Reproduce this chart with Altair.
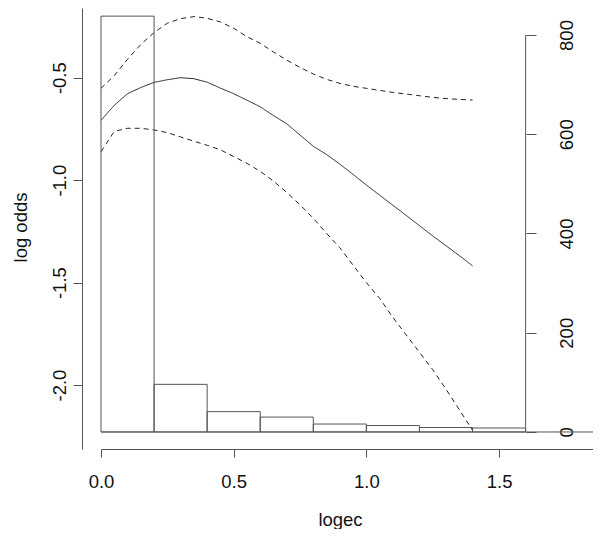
import altair as alt
import pandas as pd

# ---- data ----
x_grid = [0.00, 0.05, 0.10, 0.15, 0.20, 0.25, 0.30, 0.35, 0.40, 0.45,
          0.50, 0.55, 0.60, 0.65, 0.70, 0.75, 0.80, 0.85, 0.90, 0.95,
          1.00, 1.05, 1.10, 1.15, 1.20, 1.25, 1.30, 1.35, 1.40]
fit = [-0.708, -0.635, -0.578, -0.548, -0.523, -0.510, -0.500, -0.505, -0.522, -0.551,
       -0.578, -0.610, -0.642, -0.685, -0.725, -0.780, -0.835, -0.875, -0.922, -0.972,
       -1.024, -1.073, -1.123, -1.172, -1.222, -1.272, -1.320, -1.368, -1.418]
upper = [-0.552, -0.490, -0.410, -0.338, -0.280, -0.234, -0.212, -0.202, -0.210, -0.228,
         -0.259, -0.300, -0.332, -0.375, -0.414, -0.450, -0.482, -0.508, -0.528, -0.542,
         -0.552, -0.562, -0.572, -0.580, -0.588, -0.596, -0.602, -0.606, -0.609]
lower = [-0.861, -0.762, -0.747, -0.747, -0.755, -0.768, -0.789, -0.810, -0.830, -0.852,
         -0.885, -0.918, -0.957, -1.005, -1.060, -1.120, -1.186, -1.260, -1.330, -1.415,
         -1.500, -1.577, -1.670, -1.755, -1.840, -1.925, -2.020, -2.120, -2.220]

bin_start = [0.0, 0.2, 0.4, 0.6, 0.8, 1.0, 1.2, 1.4]
bin_end = [0.2, 0.4, 0.6, 0.8, 1.0, 1.2, 1.4, 1.6]
counts = [838, 96, 41, 30, 16, 13, 9, 8]

x_ticks = [0.0, 0.5, 1.0, 1.5]
y_ticks = [-2.0, -1.5, -1.0, -0.5]
count_ticks = [0, 200, 400, 600, 800]

# ---- tables ----
rows = []
for name, style, vals in [("fit", "solid", fit), ("upper", "dashed", upper), ("lower", "dashed", lower)]:
    for xv, yv in zip(x_grid, vals):
        rows.append({"logec": xv, "value": yv, "series": name, "style": style})
df_curves = pd.DataFrame(rows)
df_hist = pd.DataFrame({"start": bin_start, "end": bin_end, "count": counts,
                        "base": [0] * len(counts)})
df_base = pd.DataFrame({"count": [0]})
df_raxis = pd.DataFrame({"x": [bin_end[-1]], "lo": [count_ticks[0]], "hi": [count_ticks[-1]]})

FONT = "Liberation Sans"
AX = "#555555"
TXT = "#111111"
FS = 18.5

x_scale = alt.Scale(domain=[0, 1.854], nice=False, zero=False)
x_axis = alt.Axis(values=x_ticks, format=".1f", grid=False, tickSize=8,
                  labelFlush=False,
                  labelFontSize=FS, labelBaseline="alphabetic", labelPadding=30,
                  labelColor=TXT, domainColor=AX, tickColor=AX,
                  title="logec", titleFontSize=FS, titleFontWeight="normal",
                  titleColor=TXT, titleX=239, titleY=76, titleBaseline="alphabetic",
                  titleAlign="center")

y_axis = alt.Axis(orient="left", offset=19, values=y_ticks, grid=False, tickSize=9,
                  labelAngle=270, labelAlign="center", labelBaseline="alphabetic",
                  labelPadding=8, labelFontSize=FS, labelColor=TXT,
                  labelExpr="replace(format(datum.value, '.1f'), '\u2212', '-')",
                  domainColor=AX, tickColor=AX,
                  title="log odds", titleFontSize=FS, titleFontWeight="normal",
                  titleColor=TXT, titleAngle=270, titleX=-56, titleY=219,
                  titleAlign="center", titleBaseline="alphabetic")

count_scale = alt.Scale(domain=[-34.3, 854.4], nice=False, zero=False)
count_axis = alt.Axis(orient="right", offset=-67, values=count_ticks, grid=False,
                      domain=False, tickSize=10, labelAngle=270, labelAlign="center",
                      labelBaseline="alphabetic", labelPadding=36, labelFontSize=FS,
                      labelColor=TXT, tickColor=AX, title=None)

curves = alt.Chart(df_curves).mark_line(color="#222222", strokeWidth=1).encode(
    x=alt.X("logec:Q", scale=x_scale, axis=x_axis),
    y=alt.Y("value:Q", scale=alt.Scale(domain=[-2.312, -0.160], nice=False, zero=False),
            axis=y_axis),
    detail="series:N",
    strokeDash=alt.StrokeDash("style:N",
                              scale=alt.Scale(domain=["solid", "dashed"], range=[[1, 0], [5, 4]]),
                              legend=None),
)

bars = alt.Chart(df_hist).mark_rect(filled=False, stroke=AX, strokeWidth=1).encode(
    x=alt.X("start:Q", scale=x_scale, axis=x_axis),
    x2="end:Q",
    y=alt.Y("count:Q", scale=count_scale, axis=count_axis),
    y2="base:Q",
)

baseline = alt.Chart(df_base).mark_rule(color=AX, strokeWidth=1).encode(
    y=alt.Y("count:Q", scale=count_scale, axis=count_axis),
)

raxis = alt.Chart(df_raxis).mark_rule(color=AX, strokeWidth=1).encode(
    x=alt.X("x:Q", scale=x_scale, axis=x_axis),
    y=alt.Y("lo:Q", scale=count_scale, axis=count_axis),
    y2="hi:Q",
)

hist = alt.layer(bars, baseline, raxis)

chart = alt.layer(curves, hist).resolve_scale(y="independent").properties(
    width=492, height=441,
    autosize=alt.AutoSizeParams(type="none"),
    padding={"left": 93, "top": 0, "right": 0, "bottom": 80},
).configure(font=FONT).configure_view(strokeWidth=0)

chart.save("out.html", embed_options={"renderer": "svg", "actions": False})
